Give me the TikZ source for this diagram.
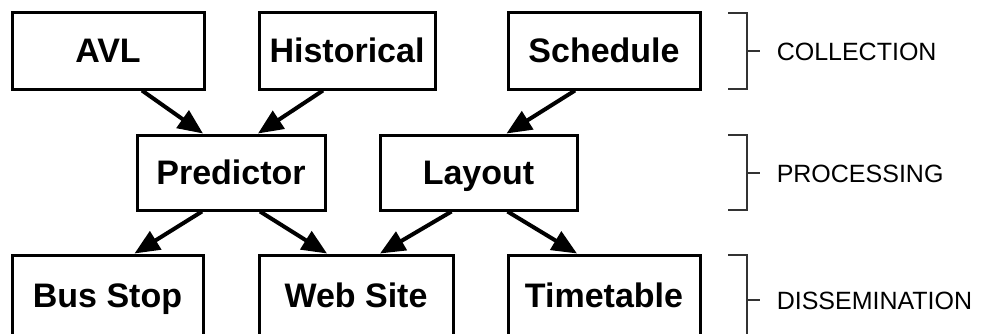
\documentclass[tikz,border=0pt]{standalone}
\usepackage{fontspec}
\setmainfont{Liberation Sans}
\usetikzlibrary{positioning,arrows.meta}
\tikzset{block/.style={rectangle,draw,line width=3pt,minimum width=192pt,minimum height=77pt,inner sep=0pt,
		text height=24pt,text depth=0pt,font=\fontsize{34}{40}\selectfont\bfseries},
	flow/.style={line width=4pt,-{Triangle[length=25pt,width=21pt]}},
	stage/.style={draw=black!80,line width=1.5pt},
	stage label/.style={inner sep=0pt,text height=18pt,text depth=0pt,font=\fontsize{25}{30}\selectfont},
}

\begin{document}
\begin{tikzpicture}[x=1pt,y=1pt]
	\clip (0,0) rectangle (989,-333);
	\node[block] (avl) at (108,-50.5){AVL};
	\node[block,minimum width=176pt] (hist)[right = 52pt of avl]{Historical};
	\node[block] (sched)[right = 70pt of hist]{Schedule};
	\node[block,minimum width=188pt,minimum height=75pt] (pred)[below right = 43pt and -70pt of avl]{Predictor};
	\node[block,minimum width=197pt,minimum height=75pt] (lay)[right = 52pt of pred]{Layout};
	\node[block,minimum width=191pt,minimum height=80pt] (bus)[below left = 42pt and -69pt of pred]{Bus Stop};
	\node[block,minimum width=194pt,minimum height=80pt] (web)[right = 53pt of bus]{Web Site};
	\node[block,minimum height=80pt] (time)[right = 52pt of web]{Timetable};
	
	
	\path[flow]
	([xshift=34pt]avl.south) edge ([xshift=-28pt]pred.north)
	([xshift=-24pt]hist.south) edge ([xshift=27pt]pred.north)
	([xshift=-29pt]sched.south) edge ([xshift=28pt]lay.north)
	([xshift=-29pt]pred.south) edge ([xshift=27pt]bus.north)
	([xshift=29pt]pred.south) edge ([xshift=-29pt]web.north)
	([xshift=-27pt]lay.south) edge ([xshift=24pt]web.north)
	([xshift=29pt]lay.south) edge ([xshift=-27pt]time.north);
	
	% stage brackets
	\draw[stage] (728,-13) -- (747,-13) -- (747,-89) -- (728,-89);
	\draw[stage] (747,-51) -- (760,-51) node[stage label,right=16pt] (collection){COLLECTION};
	\draw[stage] (728,-135) -- (747,-135) -- (747,-210) -- (728,-210);
	\draw[stage] (747,-173) -- (760,-173) node[stage label,right=16pt] (processing){PROCESSING};
	\draw[stage] (728,-255) -- (747,-255) -- (747,-345);
	\draw[stage] (747,-300) -- (760,-300) node[stage label,right=16pt] (dissemination){DISSEMINATION};
	\end{tikzpicture}
\end{document}
